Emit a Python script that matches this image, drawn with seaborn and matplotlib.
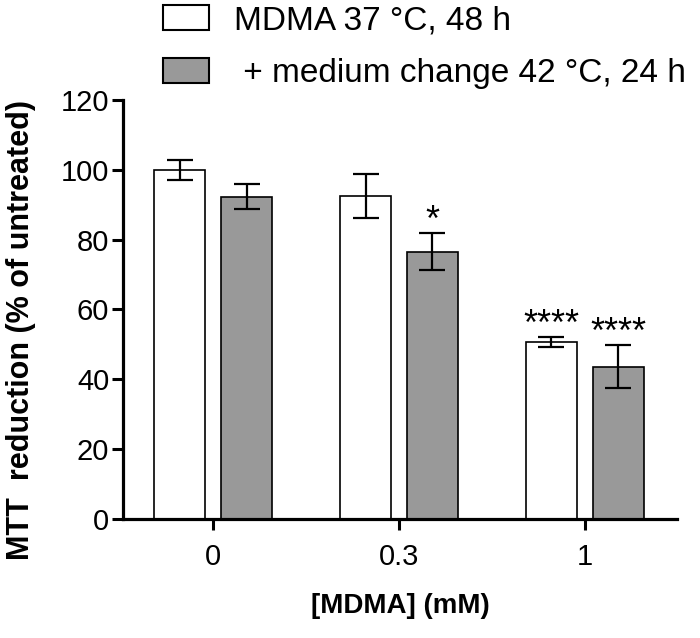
import pandas as pd
import seaborn as sns
import matplotlib.pyplot as plt
from matplotlib.patches import Patch

# Data
doses = ["0", "0.3", "1"]
conditions = ["MDMA 37 °C, 48 h", " + medium change 42 °C, 24 h"]
mean_37 = [100.0, 92.6, 50.6]
err_37 = [2.8, 6.3, 1.4]
mean_42 = [92.3, 76.6, 43.6]
err_42 = [3.5, 5.3, 6.2]
stars_37 = ["", "", "****"]
stars_42 = ["", "*", "****"]
colors = ["white", "#999999"]

df = pd.DataFrame({
    "dose": doses + doses,
    "condition": [conditions[0]] * 3 + [conditions[1]] * 3,
    "mean": mean_37 + mean_42,
    "err": err_37 + err_42,
    "stars": stars_37 + stars_42,
})

sns.set_style("ticks")
plt.rcParams["font.family"] = ["Liberation Sans", "DejaVu Sans"]
plt.rcParams["text.color"] = "black"
plt.rcParams["axes.labelcolor"] = "black"

fig = plt.figure(figsize=(7, 6.38), dpi=100)
ax = fig.add_axes([0.176, 0.1865, 0.791, 0.6568])

sns.barplot(
    data=df, x="dose", y="mean", hue="condition",
    order=doses, hue_order=conditions, palette=colors,
    width=0.72, gap=0.236, errorbar=None,
    edgecolor="black", linewidth=1.2, legend=False, ax=ax,
)

# error bars + significance stars on top of each bar
bars = [p for p in ax.patches if p.get_height() > 0]
for bar, (_, row) in zip(bars, df.iterrows()):
    xc = bar.get_x() + bar.get_width() / 2
    ax.errorbar(xc, row["mean"], yerr=row["err"], fmt="none", ecolor="black",
                elinewidth=1.6, capsize=9.5, capthick=1.6, zorder=5)
    if row["stars"]:
        ax.text(xc, row["mean"] + row["err"] + 0.6, row["stars"], ha="center",
                va="baseline", fontsize=26)

ax.set_ylim(0, 120)
ax.set_xlim(-0.484, 2.495)
ax.set_yticks(range(0, 121, 20))
ax.tick_params(axis="both", labelsize=21, width=2.2, length=8, color="black", labelcolor="black")
ax.tick_params(axis="y", pad=2)
ax.tick_params(axis="x", pad=9)
for s in ["left", "bottom"]:
    ax.spines[s].set_linewidth(2.3)
    ax.spines[s].set_color("black")
sns.despine(ax=ax)

ax.set_xlabel("[MDMA] (mM)", fontsize=20, fontweight="bold", labelpad=16)
ax.set_ylabel("MTT  reduction (% of untreated)", fontsize=22, fontweight="bold")
ax.yaxis.set_label_coords(-0.158, 0.45)

handles = [Patch(facecolor=c, edgecolor="black", linewidth=1.5) for c in colors]
fig.legend(handles, conditions, loc="upper left", bbox_to_anchor=(0.233, 0.992),
           frameon=False, fontsize=24, handlelength=1.37, handleheight=0.75,
           handletextpad=0.75, labelspacing=0.66, borderpad=0, borderaxespad=0)

fig.savefig("out.png", dpi=100)
